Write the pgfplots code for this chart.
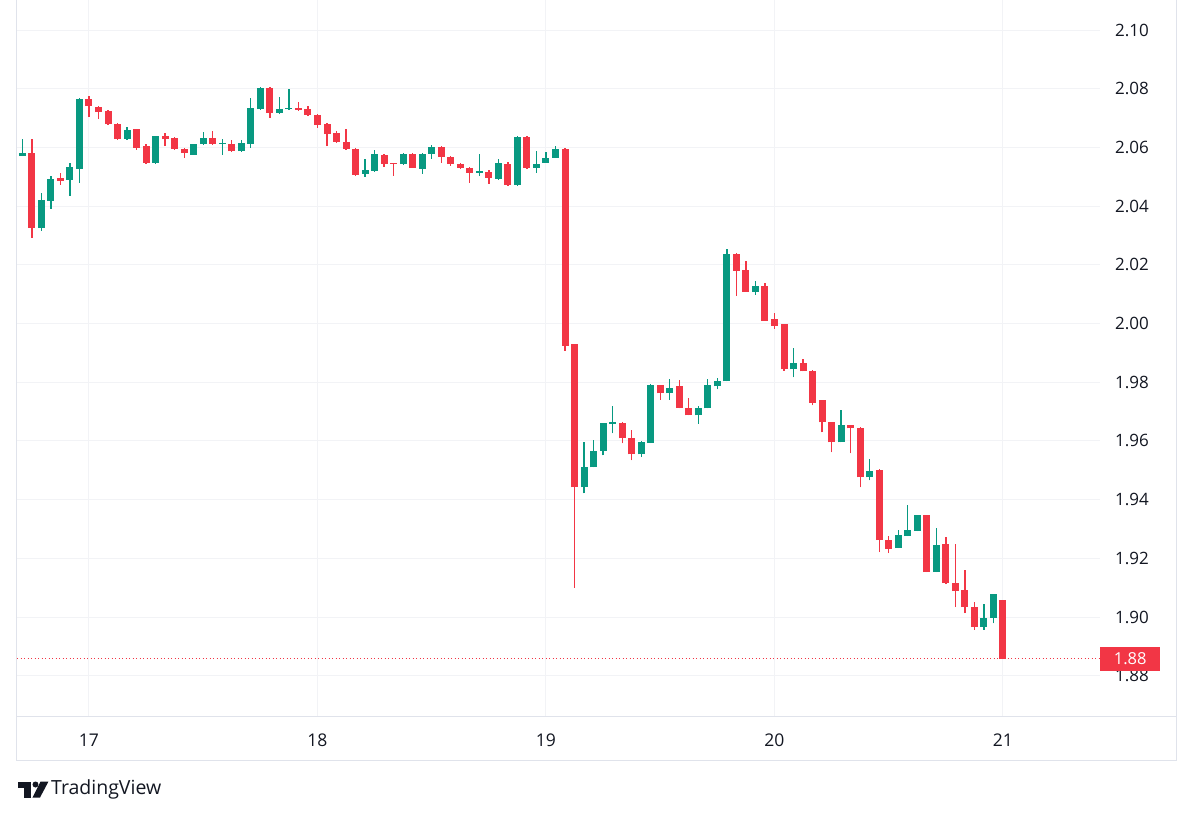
\documentclass[border=0pt]{standalone}
\usepackage{pgfplots}
\pgfplotsset{compat=1.18}
\usepackage{pgfplotstable}
\usepackage{fontspec}
\setmainfont{Open Sans}
\definecolor{cup}{HTML}{089981}
\definecolor{cdn}{HTML}{F23645}
\definecolor{gridc}{HTML}{F2F3F6}
\definecolor{bord}{HTML}{E0E3EB}
\definecolor{txt}{HTML}{131722}

% rising candles: index o h l c
\pgfplotstableread{
i o h l c
1 2.0571 2.0629 2.0571 2.0582
3 2.0327 2.0446 2.0316 2.0422
4 2.0418 2.0503 2.0391 2.0493
6 2.0490 2.0548 2.0435 2.0534
7 2.0527 2.0769 2.0480 2.0765
12 2.0629 2.0670 2.0626 2.0660
15 2.0548 2.0639 2.0544 2.0639
19 2.0575 2.0612 2.0575 2.0612
20 2.0612 2.0654 2.0609 2.0633
22 2.0612 2.0629 2.0575 2.0616
24 2.0588 2.0626 2.0585 2.0616
25 2.0612 2.0770 2.0599 2.0735
26 2.0731 2.0806 2.0728 2.0803
28 2.0718 2.0772 2.0714 2.0731
29 2.0731 2.0799 2.0728 2.0735
37 2.0510 2.0561 2.0500 2.0524
38 2.0520 2.0592 2.0517 2.0578
41 2.0544 2.0580 2.0541 2.0578
43 2.0527 2.0582 2.0510 2.0578
44 2.0578 2.0609 2.0561 2.0602
49 2.0514 2.0578 2.0503 2.0520
51 2.0493 2.0561 2.0490 2.0548
53 2.0473 2.0639 2.0469 2.0636
55 2.0531 2.0588 2.0514 2.0544
56 2.0548 2.0585 2.0548 2.0565
57 2.0565 2.0605 2.0565 2.0595
60 1.9442 1.9596 1.9421 1.9510
61 1.9510 1.9602 1.9510 1.9565
62 1.9565 1.9660 1.9551 1.9660
63 1.9657 1.9718 1.9626 1.9663
66 1.9554 1.9600 1.9545 1.9595
67 1.9593 1.9795 1.9593 1.9789
69 1.9762 1.9812 1.9741 1.9782
72 1.9687 1.9718 1.9659 1.9711
73 1.9711 1.9812 1.9711 1.9789
74 1.9786 1.9816 1.9776 1.9806
75 1.9803 2.0254 1.9803 2.0238
78 2.0109 2.0146 2.0099 2.0129
82 1.9844 1.9918 1.9817 1.9864
87 1.9595 1.9704 1.9595 1.9653
90 1.9476 1.9540 1.9466 1.9497
93 1.9235 1.9296 1.9235 1.9279
94 1.9276 1.9381 1.9276 1.9296
95 1.9293 1.9347 1.9293 1.9347
97 1.9153 1.9302 1.9153 1.9245
102 1.8966 1.9044 1.8956 1.8996
103 1.8997 1.9078 1.8978 1.9078
}\up

% falling candles: index o h l c
\pgfplotstableread{
i o h l c
2 2.0582 2.0629 2.0293 2.0327
5 2.0497 2.0514 2.0473 2.0486
8 2.0765 2.0776 2.0704 2.0741
9 2.0738 2.0741 2.0697 2.0721
10 2.0724 2.0728 2.0677 2.0680
11 2.0680 2.0684 2.0626 2.0629
13 2.0663 2.0663 2.0592 2.0599
14 2.0605 2.0612 2.0544 2.0548
16 2.0639 2.0650 2.0605 2.0629
17 2.0633 2.0636 2.0592 2.0595
18 2.0595 2.0599 2.0565 2.0582
21 2.0633 2.0656 2.0609 2.0612
23 2.0612 2.0626 2.0585 2.0588
27 2.0803 2.0806 2.0701 2.0718
30 2.0735 2.0755 2.0725 2.0728
31 2.0731 2.0741 2.0707 2.0711
32 2.0711 2.0714 2.0667 2.0677
33 2.0680 2.0684 2.0605 2.0646
34 2.0650 2.0656 2.0616 2.0619
35 2.0619 2.0663 2.0592 2.0595
36 2.0595 2.0599 2.0503 2.0507
39 2.0575 2.0578 2.0534 2.0544
40 2.0548 2.0548 2.0503 2.0544
42 2.0578 2.0582 2.0531 2.0531
45 2.0602 2.0605 2.0548 2.0568
46 2.0568 2.0571 2.0537 2.0544
47 2.0544 2.0548 2.0527 2.0531
48 2.0531 2.0534 2.0480 2.0514
50 2.0517 2.0524 2.0476 2.0497
52 2.0544 2.0551 2.0469 2.0473
54 2.0636 2.0639 2.0527 2.0531
58 2.0595 2.0599 1.9908 1.9925
59 1.9929 1.9929 1.9099 1.9442
64 1.9660 1.9663 1.9592 1.9609
65 1.9609 1.9636 1.9534 1.9554
68 1.9789 1.9792 1.9741 1.9762
70 1.9786 1.9809 1.9711 1.9714
71 1.9714 1.9748 1.9687 1.9687
76 2.0238 2.0241 2.0095 2.0180
77 2.0184 2.0214 2.0109 2.0109
79 2.0129 2.0139 2.0010 2.0010
80 2.0014 2.0037 1.9983 1.9993
81 1.9997 2.0000 1.9840 1.9844
83 1.9864 1.9880 1.9837 1.9837
84 1.9840 1.9843 1.9721 1.9731
85 1.9738 1.9738 1.9629 1.9663
86 1.9663 1.9666 1.9561 1.9595
88 1.9653 1.9656 1.9558 1.9643
89 1.9643 1.9646 1.9442 1.9476
91 1.9500 1.9503 1.9221 1.9262
92 1.9262 1.9276 1.9218 1.9231
96 1.9347 1.9347 1.9153 1.9153
98 1.9248 1.9272 1.9112 1.9116
99 1.9116 1.9248 1.9034 1.9088
100 1.9092 1.9160 1.9013 1.9034
101 1.9034 1.9051 1.8956 1.8966
104 1.9058 1.9058 1.8857 1.8857
}\down

\begin{document}
\begin{tikzpicture}[x=1pt,y=1pt]
\begin{scope}[shift={(-17pt,-101pt)}]
\fill[white] (0,0) rectangle (1200,817);
\end{scope}
\begin{axis}[
  name=ax,
  anchor=south west, at={(0pt,0pt)},
  scale only axis, width=1083pt, height=716pt,
  xmin=0.44, xmax=114.19,
  ymin=1.8661, ymax=2.1101,
  axis line style={draw=none},
  major tick length=0pt,
  grid=major,
  major grid style={draw=gridc, line width=1pt},
  xtick={8,32,56,80,104},
  xticklabels={17,18,19,20,21},
  ytick={1.88,1.90,...,2.105},
  yticklabel pos=right,
  /pgf/number format/assume math mode=true,
  yticklabel style={/pgf/number format/fixed, /pgf/number format/fixed zerofill,
    /pgf/number format/precision=2, anchor=center, xshift=32pt,
    font=\fontsize{17}{20}\selectfont, text=txt},
  xticklabel style={anchor=center, yshift=-24pt,
    font=\fontsize{17.5}{20}\selectfont, text=txt},
  clip=true,
]
% last-price line
\addplot[cdn, line width=1pt, dash pattern=on 1pt off 2.5pt] coordinates {(0.44,1.8857) (114.19,1.8857)};
% wicks
\addplot[draw=none, mark=none, error bars/.cd, y dir=plus, y explicit, error mark=none,
  error bar style={draw=cup, line width=1.3pt}]
  table[x=i, y=l, y error expr=\thisrow{h}-\thisrow{l}] {\up};
\addplot[draw=none, mark=none, error bars/.cd, y dir=plus, y explicit, error mark=none,
  error bar style={draw=cdn, line width=1.3pt}]
  table[x=i, y=l, y error expr=\thisrow{h}-\thisrow{l}] {\down};
% bodies
\addplot[draw=none, mark=none, error bars/.cd, y dir=plus, y explicit, error mark=none,
  error bar style={draw=cup, line width=7pt, line cap=butt}]
  table[x=i, y=o, y error expr={max(\thisrow{c}-\thisrow{o},0.0004)}] {\up};
\addplot[draw=none, mark=none, error bars/.cd, y dir=plus, y explicit, error mark=none,
  error bar style={draw=cdn, line width=7pt, line cap=butt}]
  table[x=i, y=c, y error expr={max(\thisrow{o}-\thisrow{c},0.0004)}] {\down};
\coordinate (lp) at (axis cs:114.19,1.8857);
\end{axis}
\begin{scope}[shift={(-17pt,-101pt)}]
% frame
\draw[bord, line width=1pt] (17,817) -- (17,57) -- (1176,57) -- (1176,817);
\draw[bord, line width=1pt] (17,101) -- (1176,101);
% TradingView logo
\fill[txt] (18,30) rectangle (31,36);
\fill[txt] (24.5,20) rectangle (31,36);
\fill[txt] (35.5,33) circle (3);
\fill[txt] (40.5,36) -- (48.5,36) -- (40,20) -- (32.5,20) -- cycle;
\node[anchor=west, inner sep=0pt, text=txt, font=\fontsize{19.5}{22}\selectfont] at (51,28) {TradingView};
\useasboundingbox (0,0) rectangle (1200,817);
\end{scope}
% last price tag
\node[fill=cdn, text=white, anchor=west, minimum width=60pt, minimum height=24pt,
  inner sep=0pt, font=\fontsize{16.5}{18}\selectfont] at (lp) {1.88};
\end{tikzpicture}
\end{document}
